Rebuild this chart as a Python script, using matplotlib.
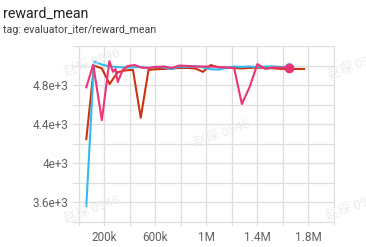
import matplotlib
matplotlib.use("Agg")
import matplotlib.pyplot as plt

# values (x in steps, y = reward_mean)
red_x = [61e3, 122e3, 183e3, 244e3, 305e3, 366e3, 427e3, 488e3, 549e3, 610e3,
         671e3, 732e3, 793e3, 854e3, 915e3, 976e3, 1037e3, 1098e3, 1159e3, 1220e3,
         1281e3, 1342e3, 1403e3, 1464e3, 1525e3, 1586e3, 1647e3, 1708e3, 1769e3]
red_y = [4246, 5000, 4970, 4810, 4930, 4950, 4955, 4465, 4955, 4962,
         4965, 4970, 4975, 4975, 4970, 4935, 5005, 4980, 4978, 4975,
         4970, 4975, 4978, 4975, 4972, 4965, 4965, 4965, 4965]

cyan_x = [61e3, 122e3, 183e3, 244e3, 305e3, 366e3, 427e3, 488e3, 549e3, 610e3,
          671e3, 732e3, 793e3, 854e3, 915e3, 976e3, 1037e3, 1098e3, 1159e3, 1220e3,
          1281e3, 1342e3, 1403e3, 1464e3, 1525e3, 1586e3, 1647e3]
cyan_y = [3560, 5040, 5010, 4990, 4985, 4978, 4982, 4985, 4975, 4988,
          4980, 4965, 4990, 4985, 4995, 4980, 4962, 4958, 4975, 4990,
          4985, 4990, 4985, 4990, 4990, 4985, 4986]

pink_x = [61e3, 115e3, 183e3, 242e3, 270e3, 290e3, 307e3, 347e3, 386e3, 440e3,
          495e3, 549e3, 610e3, 671e3, 732e3, 793e3, 854e3, 915e3, 976e3, 1037e3,
          1098e3, 1159e3, 1220e3, 1281e3, 1342e3, 1403e3, 1464e3, 1525e3, 1586e3, 1647e3]
pink_y = [4776, 5010, 4440, 5045, 4935, 4965, 4830, 4955, 4995, 5005,
          4978, 4975, 4985, 4990, 4975, 5000, 4995, 4990, 4990, 4990,
          4985, 4980, 4975, 4605, 4780, 5015, 4965, 4980, 4978, 4978]

x_ticks = [0, 200e3, 400e3, 600e3, 800e3, 1e6, 1.2e6, 1.4e6, 1.6e6, 1.8e6, 2e6]
x_labels = ["", "200k", "", "600k", "", "1M", "", "1.4M", "", "1.8M", ""]
y_ticks = [3400, 3600, 3800, 4000, 4200, 4400, 4600, 4800, 5000, 5200]
y_labels = ["", "3.6e+3", "", "4e+3", "", "4.4e+3", "", "4.8e+3", "", ""]

W, H = 366, 247
fig = plt.figure(figsize=(W / 100, H / 100), dpi=100)
ax = fig.add_axes([77 / W, 1 - 226 / H, (335 - 77) / W, (226 - 46) / H])

ax.plot(red_x, red_y, color="#cc3311", lw=1.5, zorder=3)
ax.plot(cyan_x, cyan_y, color="#33bbee", lw=1.5, zorder=4)
ax.plot(pink_x, pink_y, color="#ee3377", lw=1.5, zorder=5)
ax.plot(cyan_x[-1:], cyan_y[-1:], "o", color="#5cc8f0", ms=5.5, zorder=5)
ax.plot(pink_x[-1:], pink_y[-1:], "o", color="#ee3377", ms=6, zorder=6)

ax.set_xlim(-12e3, 2.0115e6)
ax.set_ylim(3355, 5198)
ax.set_xticks(x_ticks)
ax.set_xticklabels(x_labels)
ax.set_yticks(y_ticks)
ax.set_yticklabels(y_labels)

for s in ax.spines.values():
    s.set_visible(False)
ax.grid(True, color="#dedede", lw=0.9)
ax.set_axisbelow(True)
ax.tick_params(axis="x", length=0, pad=3.8, labelsize=8.5, labelcolor="#616161")
ax.tick_params(axis="y", length=3.6, width=0.9, color="#dedede", pad=2.6,
               labelsize=8.5, labelcolor="#616161")
for t in ax.get_xticklabels() + ax.get_yticklabels():
    t.set_family("Roboto")

fig.text(3 / W, 1 - 18 / H, "reward_mean", fontsize=10.2, family="Roboto",
         color="#212121", va="baseline")
fig.text(3 / W, 1 - 33 / H, "tag: evaluator_iter/reward_mean", fontsize=7.7,
         family="Roboto", color="#424242", va="baseline")

# faint watermark, the right-hand copies run off the panel edge as in the original
for cx, cy in [(92, 62), (92, 209), (222, 133), (356, 65), (354, 206)]:
    fig.text(cx / W, 1 - cy / H, "赵琛 0946", fontsize=9.5, rotation=20,
             family=["Noto Sans CJK SC", "DejaVu Sans"], color="#ececec",
             ha="center", va="center", zorder=10)

fig.savefig("out.png", dpi=100)
